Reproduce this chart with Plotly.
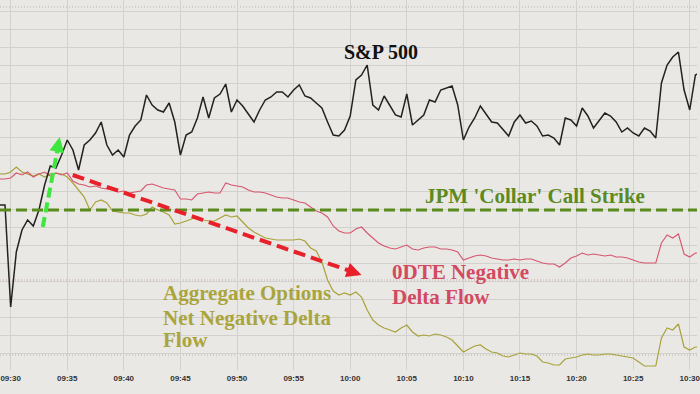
import pandas as pd
import plotly.graph_objects as go

DAY = "2023-03-15"
times = pd.date_range(f"{DAY} 09:29:00", periods=125, freq="30s")

# Unlabelled index levels (higher = higher on chart)
sp500 = [165,165,63,118,140,150,144,160,185,204,202,215,230,220,200,225,230,237,248,225,
         215,220,213,235,244,250,275,265,260,258,267,248,215,235,238,252,273,252,272,276,
         286,258,270,264,256,248,260,270,273,278,278,273,280,285,274,272,267,262,248,235,
         234,240,254,290,295,305,265,260,274,264,255,253,276,245,250,255,270,268,280,282,
         284,265,230,243,252,264,256,248,247,240,234,248,255,247,249,244,234,235,232,225,
         252,250,244,262,254,242,250,257,254,248,238,242,237,234,242,239,232,287,305,313,
         318,280,260,295,298]

dte0 = [191,191,192,197,195,198,193,196,198,194,197,195,197,189,186,185,183,184,182,181,
        180,178,179,177,178,179,185,186,184,182,181,180,171,171,170,176,177,178,177,177,
        187,185,184,183,180,178,178,177,175,173,172,172,170,168,167,163,159,157,153,144,
        139,137,137,141,143,137,132,127,124,122,121,123,125,121,120,122,123,123,121,121,
        120,118,110,112,114,115,114,112,111,110,110,111,110,111,111,109,107,106,106,103,
        107,112,114,117,115,116,115,114,115,113,113,112,110,108,107,107,107,127,135,132,
        136,116,113,117,117]

aggregate = [196,196,198,203,198,196,194,196,193,196,197,196,193,187,180,173,160,168,170,167,
             159,158,157,157,155,154,156,163,160,158,155,146,147,149,151,153,150,149,149,152,
             155,153,154,148,142,138,135,132,131,130,130,130,130,131,129,122,119,108,90,79,
             75,77,75,78,73,60,50,45,42,40,38,42,45,38,34,35,34,36,35,33,
             30,24,18,21,24,25,21,18,17,14,13,15,17,16,16,14,8,7,5,5,
             11,12,13,15,16,15,15,16,16,15,14,13,12,8,4,4,4,32,42,40,
             46,23,20,23,23]

collar_strike = 160
ref_levels = [363, 90, 15]
ref_colors = ["#b9b7b4", "#c9a3a8", "#b3b19a"]

BG = "#eae8e5"
GRID = "#d3d1ce"

fig = go.Figure()

for lvl, col in zip(ref_levels, ref_colors):
    fig.add_hline(y=lvl, line=dict(color=col, width=1, dash="1px,2px"), layer="below")

fig.add_hline(y=collar_strike, line=dict(color="#5b8a1f", width=3, dash="11px,5px"))

fig.add_trace(go.Scatter(x=times, y=aggregate, mode="lines",
                         line=dict(color="#a8a23a", width=1.2), name="Aggregate"))
fig.add_trace(go.Scatter(x=times, y=dte0, mode="lines",
                         line=dict(color="#d6566c", width=1.1), name="0DTE"))
fig.add_trace(go.Scatter(x=times, y=sp500, mode="lines",
                         line=dict(color="#222222", width=1.5), name="S&P 500"))

# dashed arrows
fig.add_shape(type="line", x0=f"{DAY} 09:35:29", y0=195, x1=f"{DAY} 10:00:00", y1=99,
              line=dict(color="#e8202a", width=4, dash="12px,6px"))
fig.add_annotation(x=f"{DAY} 10:01:00", y=95, text="", showarrow=True, axref="pixel",
                   ayref="pixel", ax=-13, ay=-4.6, arrowhead=2, arrowsize=0.75,
                   arrowwidth=4, arrowcolor="#e8202a")
fig.add_shape(type="line", x0=f"{DAY} 09:32:50", y0=143, x1=f"{DAY} 09:34:10", y1=222,
              line=dict(color="#3fe63f", width=4, dash="10px,5px"))
fig.add_annotation(x=f"{DAY} 09:34:20", y=233, text="", showarrow=True, axref="pixel",
                   ayref="pixel", ax=-2.6, ay=13.8, arrowhead=2, arrowsize=0.75,
                   arrowwidth=4, arrowcolor="#3fe63f")

SERIF = "Liberation Serif"
def label(txt, x, y, color, size=21, xanchor="center"):
    fig.add_annotation(x=f"{DAY} {x}", y=y, text=f"<b>{txt}</b>", showarrow=False,
                       xanchor=xanchor, yanchor="middle",
                       font=dict(family=SERIF, size=size, color=color))

label("S&amp;P 500", "10:02:45", 318, "#111111", size=20)
label("JPM 'Collar' Call Strike", "10:16:18", 174, "#5b8a1f")
label("0DTE Negative", "10:03:33", 98, "#d24a62", xanchor="left")
label("Delta Flow", "10:03:33", 73, "#d24a62", xanchor="left")
label("Aggregate Options", "09:43:19", 77, "#a9a53c", xanchor="left")
label("Net Negative Delta", "09:43:19", 52, "#a9a53c", xanchor="left")
label("Flow", "09:43:19", 30, "#a9a53c", xanchor="left")

fig.update_layout(
    width=700, height=394, margin=dict(l=0, r=0, t=0, b=24),
    paper_bgcolor=BG, plot_bgcolor=BG, showlegend=False,
    xaxis=dict(type="date", range=[f"{DAY} 09:29:03.5", f"{DAY} 10:30:38.5"],
               tick0=f"{DAY} 09:30:00", dtick=300000, tickformat="%H:%M",
               showgrid=True, gridcolor=GRID, gridwidth=1, zeroline=False,
               showline=False, ticks="", ticklabelstandoff=2, ticklabeloverflow="allow",
               tickfont=dict(family="Liberation Sans", size=8, color="#333333", weight="bold")),
    yaxis=dict(range=[0, 370], tick0=16.87, dtick=17.97, showticklabels=False,
               showgrid=True, gridcolor=GRID, gridwidth=1, zeroline=False, showline=False),
)

fig.write_html("out.html", config={"displayModeBar": False},
               post_script="document.body.style.margin='0';")
